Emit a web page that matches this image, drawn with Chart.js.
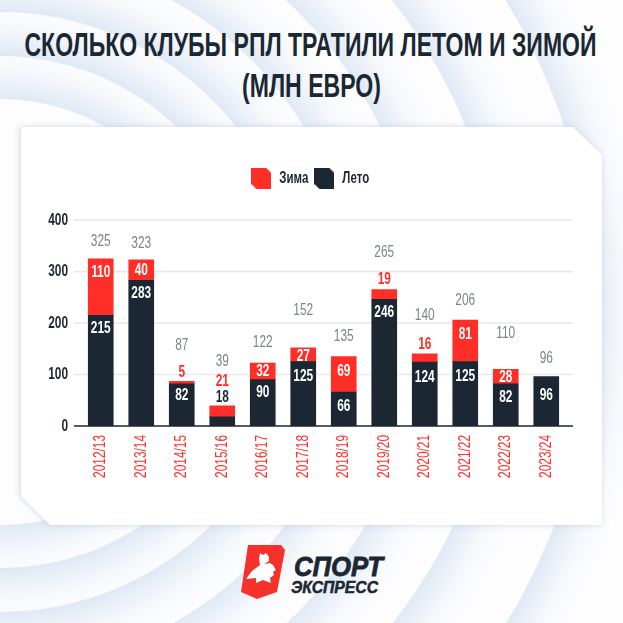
<!DOCTYPE html>
<html lang="ru">
<head>
<meta charset="utf-8">
<title>Сколько клубы РПЛ тратили летом и зимой</title>
<script src="https://cdn.jsdelivr.net/npm/chart.js@4/dist/chart.umd.js"></script>
<style>
html,body{margin:0;padding:0;width:623px;height:623px;overflow:hidden;background:#fdfdfe}
#bg,#c{position:absolute;left:0;top:0}
</style>
</head>
<body>
<svg id="bg" width="623" height="623" viewBox="0 0 623 623" xmlns="http://www.w3.org/2000/svg">
<defs>
<filter id="soft" x="-20%" y="-20%" width="140%" height="140%"><feGaussianBlur stdDeviation="20"/></filter>
<filter id="card" x="-10%" y="-10%" width="120%" height="120%"><feDropShadow dx="-1" dy="0" stdDeviation="3" flood-color="#b9c7dc" flood-opacity=".7"/></filter>
</defs>
<g id="rings"></g>
<polygon points="21,127 573,127 602,155 602,525 50,525 21,496" fill="#fff" filter="url(#card)"/>
<g font-family="'Liberation Sans',sans-serif" font-weight="700" fill="#1b2733" font-size="34">
<text x="24.5" y="56" textLength="572" lengthAdjust="spacingAndGlyphs">СКОЛЬКО КЛУБЫ РПЛ ТРАТИЛИ ЛЕТОМ И ЗИМОЙ</text>
<text x="242" y="97" textLength="139" lengthAdjust="spacingAndGlyphs">(МЛН ЕВРО)</text>
</g>
<polygon points="248,545 281,545 285,550 277,592 257,599 241,592" fill="#f6302a"/>
<path d="M246 579 L252 571 L260 565 L259 559 L260 553 L263 555 L266 553 L269 557 L269 561 L264 564 L270 563 L273 565 L276 570 L273 572 L274 575 L270 578 L271 583 L263 580 L256 583 L256 578 Z" fill="#fff"/>
<g font-family="'Liberation Sans',sans-serif" font-weight="700" font-style="italic" fill="#1b2733">
<text x="294" y="576" font-size="28" textLength="89" lengthAdjust="spacingAndGlyphs" stroke="#1b2733" stroke-width=".8">СПОРТ</text>
<text x="291" y="593" font-size="16" textLength="87" lengthAdjust="spacingAndGlyphs" stroke="#1b2733" stroke-width=".5">ЭКСПРЕСС</text>
</g>
</svg>
<canvas id="c" width="623" height="623"></canvas>
<script>
const seasons = ['2012/13','2013/14','2014/15','2015/16','2016/17','2017/18','2018/19','2019/20','2020/21','2021/22','2022/23','2023/24'];
const summer = [215,283,82,18,90,125,66,246,124,125,82,96];
const winter = [110,40,5,21,32,27,69,19,16,81,28,0];
const totals = [325,323,87,39,122,152,135,265,140,206,110,96];
const yTicks = [0,100,200,300,400];

// background rings: concentric discs, each casting a soft shadow outward
const NS = 'http://www.w3.org/2000/svg';
const ringRadii = [594,501,423,356,300,256,213];
ringRadii.forEach(r=>{
  [['#d6e2f2','url(#soft)',r+13],['#fdfdfe',null,r]].forEach(([f,flt,rad])=>{
    const c = document.createElementNS(NS,'circle');
    c.setAttribute('cx',0);c.setAttribute('cy',312);c.setAttribute('r',rad);c.setAttribute('fill',f);
    if(flt)c.setAttribute('filter',flt);
    document.getElementById('rings').appendChild(c);
  });
});

const RED='#ff2f28', DARK='#1b2733', GREY='#7d8388', GRID='#e9e9ea';
const FONT="'Liberation Sans',sans-serif";

// The reference uses a condensed face: squeeze all chart text horizontally
const canvas=document.getElementById('c');
const cx2d=canvas.getContext('2d');
const SQUEEZE=.72;
const rawMeasure=cx2d.measureText.bind(cx2d), rawFill=cx2d.fillText.bind(cx2d);
cx2d.measureText=t=>{const m=rawMeasure(t);return {width:m.width*SQUEEZE,actualBoundingBoxAscent:m.actualBoundingBoxAscent,actualBoundingBoxDescent:m.actualBoundingBoxDescent};};
cx2d.fillText=(t,x,y)=>rawFill(t,x,y,rawMeasure(t).width*SQUEEZE);

// chamfered top-right corner on the top segment of each stack
const baseDraw = Chart.BarElement.prototype.draw;
Chart.BarElement.prototype.draw = function(ctx){
  const c = this.$context;
  const {x,y,base,width} = this.getProps(['x','y','base','width'],true);
  if(Math.abs(base-y)<.5) return;
  if(!c || (c.datasetIndex===0 && winter[c.dataIndex]>0)) return baseDraw.call(this,ctx);
  const l=x-width/2, r=x+width/2, k=Math.min(4,Math.abs(base-y));
  ctx.save();
  ctx.fillStyle=this.options.backgroundColor;
  ctx.beginPath();
  ctx.moveTo(l,base);ctx.lineTo(l,y);ctx.lineTo(r-k,y);ctx.lineTo(r,y+k);ctx.lineTo(r,base);ctx.closePath();
  ctx.fill();
  ctx.restore();
};

function swatch(color){
  const s=document.createElement('canvas');s.width=20;s.height=21;
  const g=s.getContext('2d');g.fillStyle=color;g.beginPath();
  g.moveTo(0,0);g.lineTo(15,0);g.lineTo(20,5);g.lineTo(20,21);g.lineTo(5,21);g.lineTo(0,16);g.closePath();g.fill();
  return s;
}

// label placement relative to bar tops (px)
const totalGap=[17,16,36,44,21,37,20,37,38,20,36,18];
const winterShift=[14,11,-9,-24,8,9,15,-10,-9,14,8,0];
const summerShift=[13,13,12,-19,13,15,14,13,15,15,14,19];

const gridPlugin={id:'extGrid',
  beforeLayout(chart){
    const lg=chart.legend;
    if(lg && !lg._patched){
      const u=lg.update;
      lg.update=function(...a){u.apply(this,a);this.height+=23.7;};
      lg._patched=true;
    }
  },
  afterLayout(chart){
    const lg=chart.legend;
    if(lg){lg.left+=27;lg.right+=27;}
  },
  beforeDatasetsDraw(chart){
    const y=chart.scales.y, g=chart.ctx;
    g.save();
    y.ticks.forEach(t=>{
      const p=y.getPixelForValue(t.value);
      g.strokeStyle=t.value===0?DARK:GRID;
      g.lineWidth=t.value===0?1.4:1.6;
      g.beginPath();g.moveTo(74,p);g.lineTo(573,p);g.stroke();
    });
    g.restore();
  }};
const labelPlugin={id:'barLabels',
  afterDatasetsDraw(chart){
    const g=chart.ctx, m0=chart.getDatasetMeta(0).data, m1=chart.getDatasetMeta(1).data;
    function txt(s,x,y,color,weight){
      g.save();
      g.font=`${weight} 16.5px ${FONT}`;g.fillStyle=color;g.textAlign='center';g.textBaseline='middle';
      g.fillText(String(s),x,y);g.restore();
    }
    seasons.forEach((_,i)=>{
      const a=m0[i], b=m1[i], top=winter[i]>0?b.y:a.y;
      txt(totals[i],a.x,top-totalGap[i],GREY,'400');
      if(winter[i]>0){
        const off=winterShift[i];
        txt(winter[i],a.x,b.y+off,off<0?RED:'#fff','700');
      }
      const off=summerShift[i];
      txt(summer[i],a.x,a.y+off,off<0?DARK:'#fff','700');
    });
  }};

new Chart(canvas,{
  type:'bar',
  data:{labels:seasons,datasets:[
    {label:'Лето',data:summer,backgroundColor:DARK,barThickness:25,stack:'s'},
    {label:'Зима',data:winter,backgroundColor:RED,barThickness:25,stack:'s'}
  ]},
  plugins:[gridPlugin,labelPlugin],
  options:{
    responsive:false,animation:false,
    layout:{padding:{top:164.4,left:0,right:56.5,bottom:77}},
    plugins:{
      title:{display:false},tooltip:{enabled:false},
      legend:{position:'top',labels:{
        usePointStyle:true,pointStyleWidth:20,padding:6,color:DARK,
        font:{family:FONT,size:16,weight:'700'},
        generateLabels:()=>[
          {text:'Зима',pointStyle:swatch(RED),fillStyle:RED,strokeStyle:RED,lineWidth:0,fontColor:DARK},
          {text:'Лето',pointStyle:swatch(DARK),fillStyle:DARK,strokeStyle:DARK,lineWidth:0,fontColor:DARK}
        ]}}
    },
    scales:{
      x:{stacked:true,grid:{display:false,drawTicks:false},border:{display:false},
        ticks:{color:RED,font:{family:FONT,size:16.5},minRotation:90,maxRotation:90,padding:9,autoSkip:false},
        afterFit:s=>{s.height=120;}},
      y:{stacked:true,min:0,max:400,grid:{display:false,drawTicks:false},border:{display:false},
        ticks:{color:DARK,font:{family:FONT,size:16.5,weight:'700'},stepSize:100,padding:12.5,callback:v=>yTicks.includes(v)?v:''},
        afterFit:s=>{s.width=80.5;}}
    }
  }
});
</script>
</body>
</html>
